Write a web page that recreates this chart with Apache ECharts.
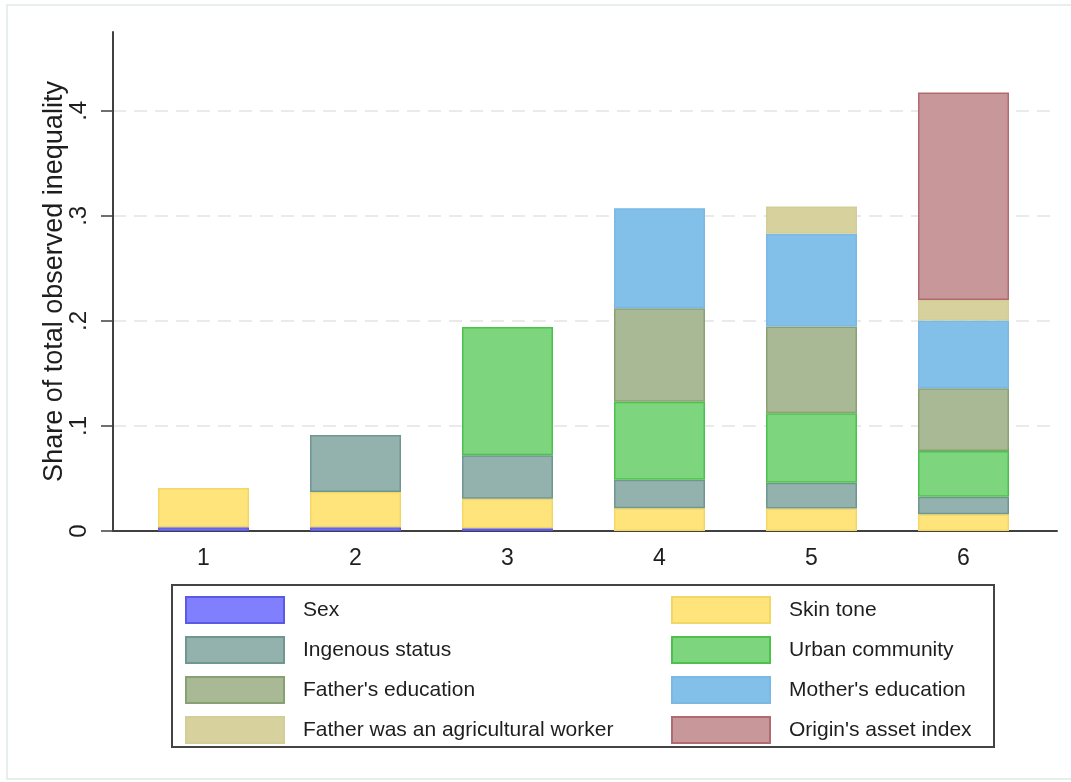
<!DOCTYPE html>
<html>
<head>
<meta charset="utf-8">
<script src="https://cdn.jsdelivr.net/npm/echarts@6/dist/echarts.min.js"></script>
<style>
  html, body { margin: 0; padding: 0; background: #ffffff; }
  #chart { width: 1071px; height: 782px; }
</style>
</head>
<body>
<div id="chart"></div>
<script>
// Model specifications shown on the horizontal axis
const modelLabels = ['1', '2', '3', '4', '5', '6'];

// Contribution of each circumstance to observed inequality, per model (null = not included)
const sex         = [0.0035, 0.0035, 0.0025, null, null, null];
const skinTone    = [0.0375, 0.0336, 0.0283, 0.0216, 0.0213, 0.0159];
const ingenous    = [null, 0.0543, 0.0413, 0.0273, 0.0247, 0.0168];
const urban       = [null, null, 0.1222, 0.0742, 0.0661, 0.0435];
const fatherEdu   = [null, null, null, 0.0890, 0.0825, 0.0597];
const motherEdu   = [null, null, null, 0.0952, 0.0883, 0.0644];
const fatherAgri  = [null, null, null, null, 0.0260, 0.0197];
const assetIndex  = [null, null, null, null, null, 0.1975];

// Vertical axis ticks
const yTicks = [0, 0.1, 0.2, 0.3, 0.4];
const yTickLabels = ['0', '.1', '.2', '.3', '.4'];
const yMax = 0.475;

const components = [
  { name: 'Sex', values: sex, fill: '#8080ff', edge: '#5a5ae6' },
  { name: 'Skin tone', values: skinTone, fill: '#ffe47c', edge: '#f3d766' },
  { name: 'Ingenous status', values: ingenous, fill: '#93b2ae', edge: '#6f968f' },
  { name: 'Urban community', values: urban, fill: '#7dd67d', edge: '#4cc24c' },
  { name: "Father's education", values: fatherEdu, fill: '#a9b995', edge: '#88a173' },
  { name: "Mother's education", values: motherEdu, fill: '#82bfe9', edge: '#7ab9e5' },
  { name: 'Father was an agricultural worker', values: fatherAgri, fill: '#d6d19d', edge: '#d3ce98' },
  { name: "Origin's asset index", values: assetIndex, fill: '#c8979a', edge: '#b06b72' }
];

const textColor = '#1e1e1e';
const axisColor = '#404040';
const fontFamily = '"Liberation Sans", Arial, sans-serif';

// Bars live in an inner grid whose category bands sit inside the framed plot area
const series = components.map(c => ({
  name: c.name,
  type: 'bar',
  stack: 'total',
  xAxisIndex: 1,
  yAxisIndex: 1,
  barWidth: 91,
  itemStyle: { color: c.fill, borderColor: c.edge, borderWidth: 1.5 },
  emphasis: { disabled: true },
  data: c.values.map(v => (v === null ? '-' : v))
}));

const legendCommon = {
  orient: 'vertical',
  top: 596,
  padding: 0,
  itemWidth: 98,
  itemHeight: 26,
  itemGap: 12,
  icon: 'rect',
  selectedMode: false,
  textStyle: { fontSize: 21, color: textColor, fontFamily: fontFamily, padding: [0, 0, 0, 14] }
};

const chart = echarts.init(document.getElementById('chart'), null, { renderer: 'canvas' });
chart.setOption({
  backgroundColor: '#ffffff',
  animation: false,
  textStyle: { fontFamily: fontFamily },
  grid: [
    { left: 113, right: 14, top: 32, bottom: 251, containLabel: false },
    { left: 127.5, right: 31.5, top: 32, bottom: 251, containLabel: false }
  ],
  xAxis: [
    {
      type: 'value',
      gridIndex: 0,
      min: 0,
      max: 1,
      axisLine: { show: true, lineStyle: { color: axisColor, width: 2 } },
      axisTick: { show: false },
      axisLabel: { show: false },
      splitLine: { show: false }
    },
    {
      type: 'category',
      gridIndex: 1,
      data: modelLabels,
      axisLine: { show: false },
      axisTick: { show: false },
      splitLine: { show: false },
      axisLabel: { fontSize: 23, color: textColor, margin: 16 }
    }
  ],
  yAxis: [
    {
      type: 'value',
      gridIndex: 0,
      min: 0,
      max: yMax,
      interval: 0.1,
      name: 'Share of total observed inequality',
      nameLocation: 'middle',
      nameGap: 45,
      nameMoveOverlap: false,
      nameTextStyle: { fontSize: 27, color: textColor },
      axisLine: { show: true, lineStyle: { color: axisColor, width: 2 } },
      axisTick: { show: true, length: 12, customValues: yTicks, lineStyle: { color: axisColor, width: 1.5 } },
      axisLabel: {
        customValues: yTicks,
        rotate: 90,
        formatter: v => yTickLabels[yTicks.findIndex(t => Math.abs(t - v) < 1e-9)] ?? '',
        fontSize: 24, color: textColor, margin: 22
      },
      splitLine: {
        show: true,
        showMinLine: false,
        showMaxLine: true,
        lineStyle: { color: '#e4e4e4', width: 1.5, type: [13, 8] }
      }
    },
    {
      type: 'value',
      gridIndex: 1,
      min: 0,
      max: yMax,
      show: false
    }
  ],
  legend: [
    Object.assign({}, legendCommon, {
      left: 185,
      data: ['Sex', 'Ingenous status', "Father's education", 'Father was an agricultural worker']
    }),
    Object.assign({}, legendCommon, {
      left: 671,
      data: ['Skin tone', 'Urban community', "Mother's education", "Origin's asset index"]
    })
  ],
  graphic: [
    {
      type: 'rect',
      silent: true,
      z: -10,
      shape: { x: 7, y: 5, width: 1090, height: 774 },
      style: { fill: 'none', stroke: '#e8eded', lineWidth: 2 }
    },
    {
      type: 'rect',
      silent: true,
      shape: { x: 172, y: 585, width: 822, height: 162 },
      style: { fill: 'none', stroke: '#444444', lineWidth: 2 }
    }
  ],
  series: series
});
</script>
</body>
</html>
